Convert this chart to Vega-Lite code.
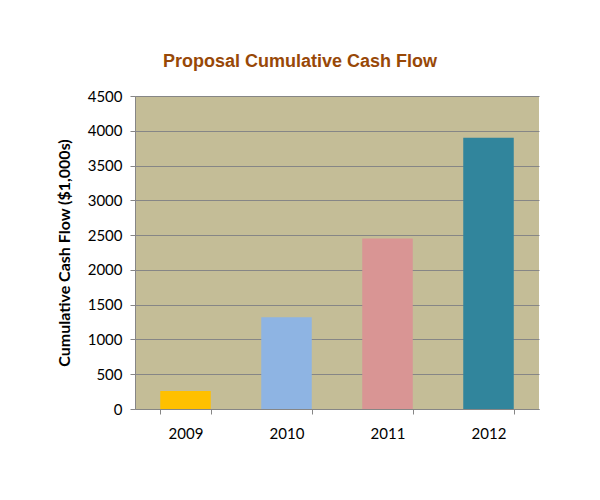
{
  "$schema": "https://vega.github.io/schema/vega-lite/v6.json",
  "autosize": "none",
  "width": 404,
  "height": 313,
  "padding": {"left": 135, "top": 96, "right": 61, "bottom": 91},
  "background": "#FFFFFF",
  "title": {
    "text": "Proposal Cumulative Cash Flow",
    "font": "Liberation Sans",
    "fontSize": 18,
    "fontWeight": "bold",
    "color": "#984807",
    "anchor": "middle",
    "frame": "group",
    "dx": -37,
    "offset": 18
  },
  "data": {
    "values": [
      {"year": "2009", "cash": 260},
      {"year": "2010", "cash": 1320},
      {"year": "2011", "cash": 2450},
      {"year": "2012", "cash": 3900}
    ]
  },
  "mark": {"type": "bar"},
  "encoding": {
    "x": {
      "field": "year",
      "type": "nominal",
      "scale": {"paddingInner": 0.5, "paddingOuter": 0.25},
      "axis": {
        "title": null,
        "labelAngle": 0,
        "tickBand": "extent",
        "labelFont": "Lato",
        "labelFontSize": 15,
        "labelColor": "#000000",
        "labelPadding": 12,
        "tickSize": 5,
        "tickColor": "#868686",
        "domainColor": "#868686",
        "grid": false
      }
    },
    "y": {
      "field": "cash",
      "type": "quantitative",
      "scale": {"domain": [0, 4500], "nice": false},
      "axis": {
        "title": "Cumulative Cash Flow ($1,000s)",
        "titleFont": "Lato",
        "titleFontSize": 16,
        "titleFontWeight": "bold",
        "titleColor": "#000000",
        "titlePadding": 15,
        "values": [0, 500, 1000, 1500, 2000, 2500, 3000, 3500, 4000, 4500],
        "format": "d",
        "labelFont": "Lato",
        "labelFontSize": 15,
        "labelColor": "#000000",
        "labelPadding": 8,
        "tickSize": 5,
        "tickColor": "#868686",
        "domainColor": "#868686",
        "gridColor": "#868686",
        "gridWidth": 1
      }
    },
    "color": {
      "field": "year",
      "type": "nominal",
      "scale": {"range": ["#FFC000", "#8EB4E3", "#D99594", "#31859C"]},
      "legend": null
    }
  },
  "config": {
    "view": {"fill": "#C4BD97", "stroke": null}
  }
}
